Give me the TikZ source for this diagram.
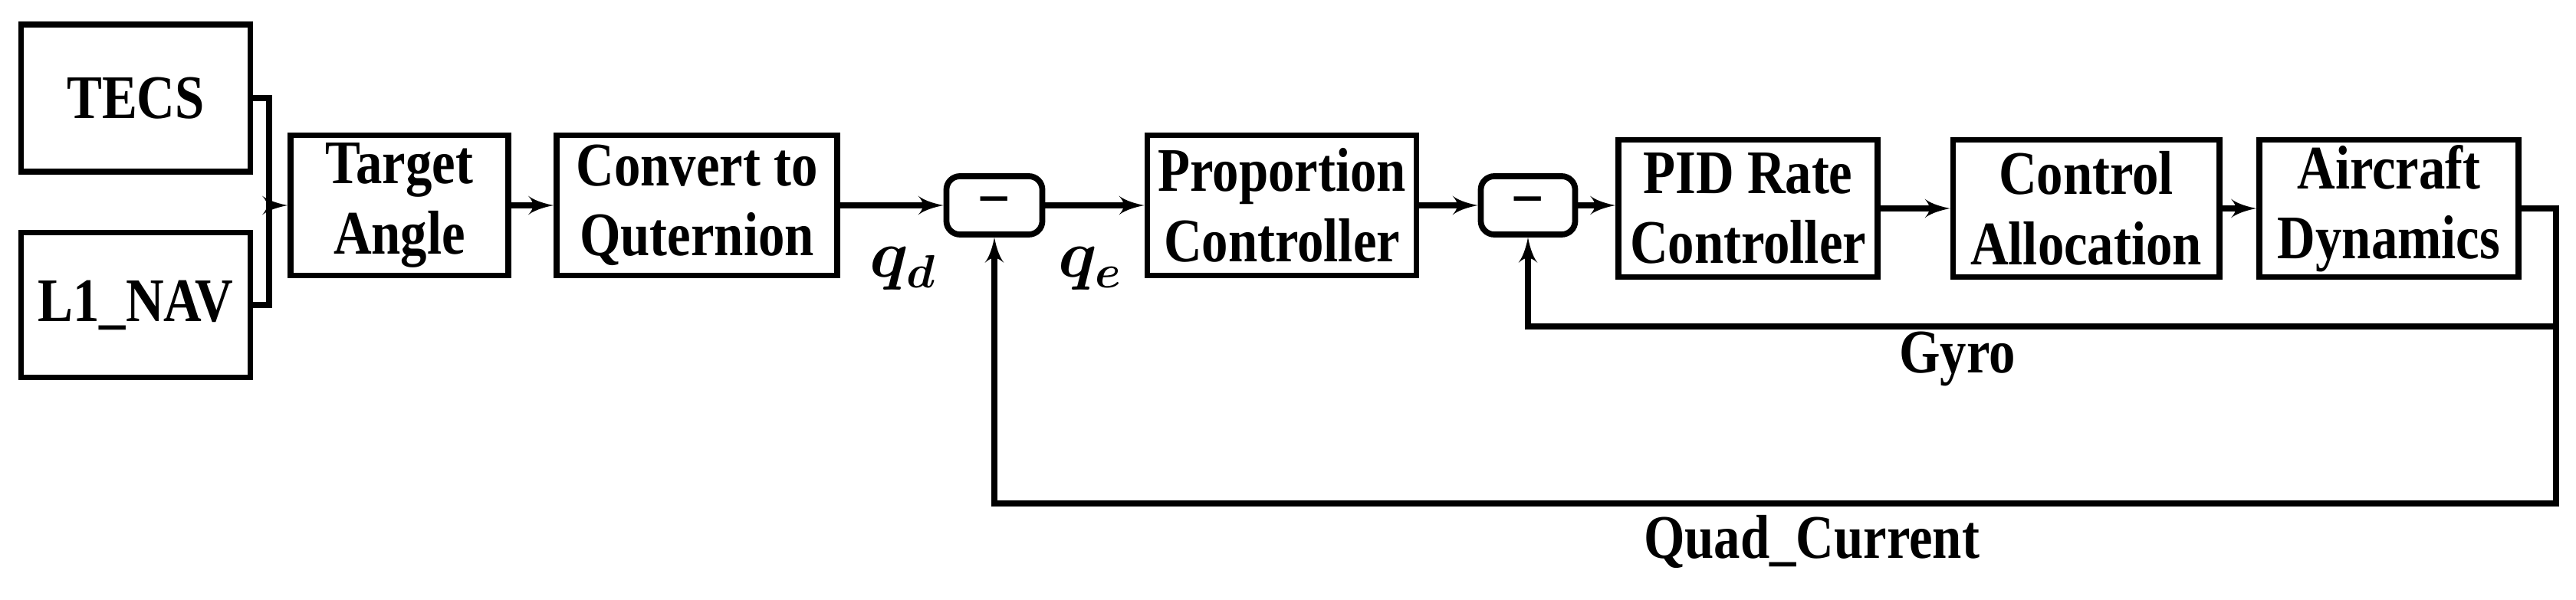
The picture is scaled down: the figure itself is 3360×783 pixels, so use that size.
\documentclass[tikz,border=0pt]{standalone}
\usepackage{fontspec}
\setmainfont{Liberation Serif}[FakeStretch=0.85]
\usepackage{amsmath}
\usetikzlibrary{arrows}

\begin{document}
\begin{tikzpicture}[>=latex',x=0.01cm,y=-0.01cm,line width=2.2pt]
 \tikzstyle{block}=[draw,align=center,inner sep=0pt,font=\fontsize{23}{26}\selectfont\bfseries]
 \tikzstyle{sum}=[draw,rounded corners=5pt,inner sep=0pt,minimum width=1.25cm,minimum height=0.76cm,font=\fontsize{23}{26}\selectfont\bfseries]
 \useasboundingbox (0,0) rectangle (3360,783);

 \node (TECS) at (177,128) [block,minimum width=2.99cm,minimum height=1.92cm] {TECS};
 \node (L1) at (177,398) [block,minimum width=2.99cm,minimum height=1.89cm] {L1\_NAV};
 \node (TA) at (521,268) [block,minimum width=2.84cm,minimum height=1.83cm] {Target\\Angle};
 \node (CQ) at (909,268) [block,minimum width=3.66cm,minimum height=1.83cm] {Convert to\\Quternion};
 \node (S1) at (1297,268) [sum] {--};
 \node (PC) at (1672,268) [block,minimum width=3.51cm,minimum height=1.83cm] {Proportion\\Controller};
 \node (S2) at (1993,268) [sum,minimum width=1.23cm] {--};
 \node (PID) at (2280,272) [block,minimum width=3.38cm,minimum height=1.79cm] {PID Rate\\Controller};
 \node (CA) at (2721,272) [block,minimum width=3.47cm,minimum height=1.79cm] {Control\\Allocation};
 \node (AD) at (3116,272) [block,minimum width=3.38cm,minimum height=1.79cm] {Aircraft\\Dynamics};

 \coordinate (join) at (351,268);
 \coordinate (gyro) at (3334,426);
 \coordinate (quad) at (3334,657);

 \node (qd) at (1178,351) {\fontsize{26}{28}\selectfont$\boldsymbol{q_d}$};
 \node (qe) at (1422,351) {\fontsize{26}{28}\selectfont$\boldsymbol{q_e}$};
 \node (gyrolabel) at (2553,468) [font=\fontsize{23}{26}\selectfont\bfseries] {Gyro};
 \node (quadlabel) at (2363,707) [font=\fontsize{23}{26}\selectfont\bfseries] {Quad\_Current};

 \draw (TECS.east) -| (join);
 \draw (L1.east) -| (join);
 \draw [->] (join) -- (TA);
 \draw [->] (TA) -- (CQ);
 \draw [->] (CQ) -- (S1);
 \draw [->] (S1) -- (PC);
 \draw [->] (PC) -- (S2);
 \draw [->] (S2.east) -- (PID.west |- S2.east);
 \draw [->] (PID) -- (CA);
 \draw [->] (CA) -- (AD);
 \draw [->] (AD.east) -| (quad) -| (S1.south);
 \draw [->] (gyro) -| (S2.south);
\end{tikzpicture}
\end{document}
